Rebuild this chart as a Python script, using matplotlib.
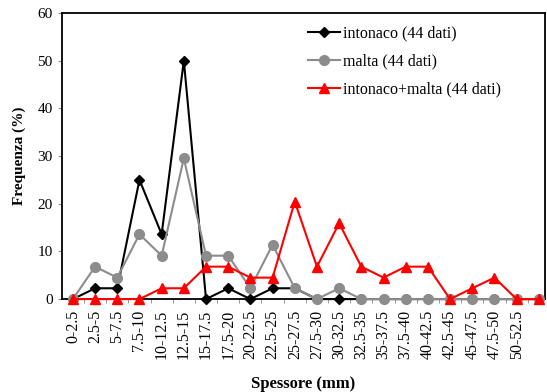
import numpy as np
import matplotlib
matplotlib.use("Agg")
import matplotlib.pyplot as plt

# classi di spessore (mm)
classi = ['0-2.5', '2.5-5', '5-7.5', '7.5-10', '10-12.5', '12.5-15', '15-17.5',
          '17.5-20', '20-22.5', '22.5-25', '25-27.5', '27.5-30', '30-32.5',
          '32.5-35', '35-37.5', '37.5-40', '40-42.5', '42.5-45', '45-47.5',
          '47.5-50', '50-52.5', '']

# frequenze (%)
intonaco = [0, 2.27, 2.27, 25.0, 13.6, 50.0, 0, 2.27, 0, 2.27, 2.27, 0, 0,
            0, 0, 0, 0, 0, 0, 0, 0, 0]
malta = [0, 6.8, 4.5, 13.6, 9.1, 29.5, 9.1, 9.1, 2.27, 11.4, 2.27, 0, 2.27,
         0, 0, 0, 0, 0, 0, 0, 0, 0]
intonaco_malta = [0, 0, 0, 0, 2.27, 2.27, 6.8, 6.8, 4.5, 4.5, 20.45, 6.8, 15.9,
                  6.8, 4.5, 6.8, 6.8, 0, 2.27, 4.5, 0, 0]

plt.rcParams['font.family'] = ['Liberation Serif', 'DejaVu Serif']

fig = plt.figure(figsize=(5.47, 3.92), dpi=100)
ax = fig.add_axes([0.113, 0.237, 0.883, 0.730])

x = np.arange(len(classi))
ax.plot(x, intonaco, color='black', marker='D', markersize=5, linewidth=1.5,
        label='intonaco (44 dati)', clip_on=False, zorder=3)
ax.plot(x, malta, color='#8c8c8c', marker='o', markersize=7, linewidth=1.5,
        label='malta (44 dati)', clip_on=False, zorder=4)
ax.plot(x, intonaco_malta, color='#ff0000', marker='^', markersize=7, linewidth=1.5,
        label='intonaco+malta (44 dati)', clip_on=False, zorder=5)

ax.set_xlim(-0.5, 21.27)
ax.set_ylim(0, 60)
ax.set_yticks(np.arange(0, 61, 10))
ax.set_xticks(x)
ax.set_xticklabels(classi, rotation=90, fontsize=11.5)
ax.set_xticks(x[:-1] + 0.5, minor=True)
ax.tick_params(axis='x', which='major', length=0, pad=8)
ax.tick_params(axis='x', which='minor', length=3, direction='out', color='#888888')
ax.tick_params(axis='y', labelsize=11, length=3, color='#888888')

for s in ax.spines.values():
    s.set_linewidth(1.3)

ax.set_xlabel('Spessore (mm)', fontweight='bold', fontsize=12, labelpad=12)
ax.set_ylabel('Frequenza (%)', fontweight='bold', fontsize=11, labelpad=8)

ax.legend(loc='upper left', bbox_to_anchor=(0.48, 1.005), frameon=False,
          fontsize=11.5, handlelength=2.0, handletextpad=0.2, labelspacing=0.75)

fig.savefig('out.png', dpi=100)
